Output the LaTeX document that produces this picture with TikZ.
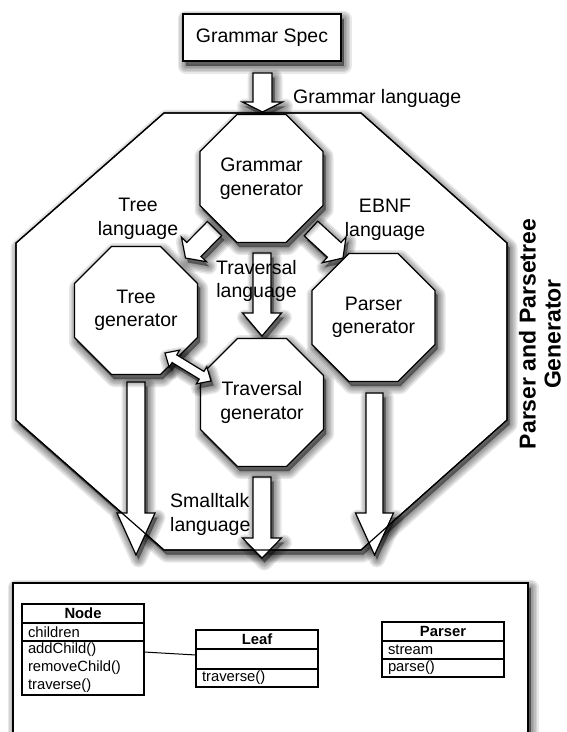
\documentclass[tikz,border=0pt]{standalone}
\usepackage{fontspec}
\setmainfont{Liberation Sans}
\usetikzlibrary{calc}

% soft drop shadow of a closed path: stacked translucent strokes, shifted down-right
\newcommand\dropshade[1]{%
  \begin{scope}[transform canvas={shift={(2.5pt,-4.5pt)}}]
    \foreach \w in {1,4,7,10,13,16}{%
      \path[fill=black,fill opacity=0.09,draw=black,draw opacity=0.09,
            line width=\w pt,line join=round] #1;}
  \end{scope}}

% hollow block arrow: start, tip, shaft half width, head half width, head length
\newcommand\blockarrow[5]{%
  \coordinate (ba-b) at ($(#2)!#5!(#1)$);
  \def\bapath{($(#1)!#3!90:(#2)$) -- ($(ba-b)!#3!90:(#2)$) -- ($(ba-b)!#4!90:(#2)$) --
    (#2) --
    ($(ba-b)!#4!-90:(#2)$) -- ($(ba-b)!#3!-90:(#2)$) -- ($(#1)!#3!-90:(#2)$) -- cycle}%
  \dropshade{\bapath}
  \path[barrow] \bapath;
}
% hollow block arrow with a head at both ends
\newcommand\twowayarrow[5]{%
  \coordinate (tw-a) at ($(#1)!#5!(#2)$);
  \coordinate (tw-b) at ($(#2)!#5!(#1)$);
  \def\twpath{(#1) -- ($(tw-a)!#4!90:(#2)$) -- ($(tw-a)!#3!90:(#2)$) --
    ($(tw-b)!#3!-90:(#1)$) -- ($(tw-b)!#4!-90:(#1)$) --
    (#2) --
    ($(tw-b)!#4!90:(#1)$) -- ($(tw-b)!#3!90:(#1)$) --
    ($(tw-a)!#3!-90:(#2)$) -- ($(tw-a)!#4!-90:(#2)$) -- cycle}%
  \dropshade{\twpath}
  \path[barrow] \twpath;
}
% octagonal process box with its label node
\newcommand\octagonbox[4]{%
  \def\ocpath{(#2-61.5,#3-27) -- (#2-61.5,#3+27) -- (#2-24.5,#3+64) -- (#2+24.5,#3+64)
    -- (#2+61.5,#3+27) -- (#2+61.5,#3-27) -- (#2+24.5,#3-64) -- (#2-24.5,#3-64) -- cycle}%
  \dropshade{\ocpath}
  \path[octo] \ocpath;
  \node[lbl] (#1) at (#2,#3) {#4};
}

\tikzset{
  outline/.style={draw=black,line width=1.2pt,line join=miter},
  barrow/.style={outline,fill=white},
  octo/.style={outline,fill=white},
  lbl/.style={font=\fontsize{19.5}{23.5}\selectfont,align=center,inner sep=0pt},
  umlhead/.style={draw=black,line width=1.2pt,minimum width=122pt,minimum height=19pt,
      inner sep=0pt,outer sep=0pt,anchor=north west,
      font=\fontsize{14.8}{18}\selectfont\bfseries},
  umlpart/.style={draw=black,line width=1.2pt,minimum width=122pt,text width=110pt,
      inner xsep=6pt,inner ysep=0pt,outer sep=0pt,align=left,anchor=north west,
      font=\fontsize{14.8}{18}\selectfont},
}

\begin{document}
\begin{tikzpicture}[x=1pt,y=-1pt]
\useasboundingbox[fill=white] (0,0) rectangle (566,732);

% container of the generator stages
\def\containerpath{(164,113) -- (361,113) -- (507,243) -- (507,420)
  -- (361,550) -- (164,550) -- (16,420) -- (16,243) -- cycle}
\dropshade{\containerpath}
\path[outline,fill=white] \containerpath;

% class diagram frame
\dropshade{(13,583) rectangle (528,748)}
\path[outline,fill=white] (13,583) rectangle (528,748);

% grammar spec
\dropshade{(183,14) rectangle (341,61)}
\node[outline,fill=white,minimum width=158pt,minimum height=47pt,lbl]
  (spec) at (262,37.5) {Grammar Spec};

% arrow end points
\coordinate (in-s) at (262.5,73);
\coordinate (in-t) at (262.5,112);
\coordinate (tl-s) at (214.5,228.5);
\coordinate (tl-t) at (185.5,258);
\coordinate (eb-s) at (311,228.5);
\coordinate (eb-t) at (343,258);
\coordinate (tv-s) at (262,253);
\coordinate (tv-t) at (262,336);
\coordinate (dw-a) at (165,353);
\coordinate (dw-b) at (211,381);
\coordinate (o1-s) at (136,382);
\coordinate (o1-t) at (136,555);
\coordinate (o2-s) at (262,477);
\coordinate (o2-t) at (262,558);
\coordinate (o3-s) at (374.5,393);
\coordinate (o3-t) at (374.5,555);

\blockarrow{in-s}{in-t}{9.5pt}{20pt}{10pt}
\blockarrow{tl-s}{tl-t}{10pt}{17.5pt}{12pt}
\blockarrow{eb-s}{eb-t}{10pt}{17.5pt}{12pt}
\blockarrow{tv-s}{tv-t}{9pt}{19.5pt}{23pt}
\blockarrow{o1-s}{o1-t}{9pt}{19pt}{42pt}
\blockarrow{o2-s}{o2-t}{9pt}{19.5pt}{20pt}
\blockarrow{o3-s}{o3-t}{8.5pt}{19pt}{42pt}

% generator stages
\octagonbox{gg}{261.5}{178.5}{Grammar\\generator}
\octagonbox{tg}{136}{310.5}{Tree\\generator}
\octagonbox{trg}{262}{402.5}{Traversal\\generator}
\octagonbox{pg}{373.5}{317.5}{Parser\\generator}

\twowayarrow{dw-a}{dw-b}{4.5pt}{10pt}{11pt}

% container outline again, on top of the outgoing arrows
\draw[outline] \containerpath;

% language labels
\node[lbl,anchor=base west] (gl) at (293,103) {Grammar language};
\node[lbl] (treeL) at (138,219) {Tree\\language};
\node[lbl] (ebnfL) at (385,220) {EBNF\\language};
\node[lbl] (travL) at (256.5,281) {Traversal\\language};
\node[lbl,align=left,anchor=west] (smallL) at (170,514.5) {Smalltalk\\language};

\node[rotate=90,align=center,inner sep=0pt,font=\fontsize{23}{25}\selectfont\bfseries]
  (ppg) at (540,334) {Parser and Parsetree\\Generator};

% classes
\node[umlhead] (nodeH) at (22,604) {Node};
\node[umlpart,minimum height=18pt] (nodeA) at (nodeH.south west) {children};
\node[umlpart,minimum height=54pt] (nodeM) at (nodeA.south west)
  {addChild()\\removeChild()\\traverse()};

\node[umlhead] (leafH) at (196,630) {Leaf};
\node[umlpart,minimum height=20pt] (leafA) at (leafH.south west) {};
\node[umlpart,minimum height=18pt] (leafM) at (leafA.south west) {traverse()};

\node[umlhead] (parH) at (382,622) {Parser};
\node[umlpart,minimum height=18pt] (parA) at (parH.south west) {stream};
\node[umlpart,minimum height=18pt] (parM) at (parA.south west) {parse()};

\draw[line width=1pt] ($(nodeM.north east)+(0,11)$) -- ($(leafA.north west)+(0,6)$);
\end{tikzpicture}
\end{document}
